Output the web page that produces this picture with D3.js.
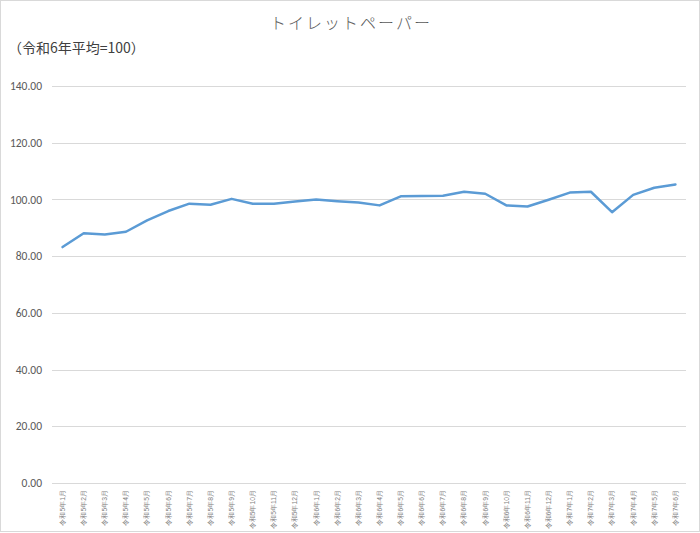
<!DOCTYPE html>
<html>
<head>
<meta charset="utf-8">
<script src="https://cdn.jsdelivr.net/npm/d3@7"></script>
<style>
  body { margin: 0; background: #fff; }
  svg { display: block; font-family: "Noto Sans CJK JP", "Noto Sans", sans-serif; }
</style>
</head>
<body>
<script>
// months on the category axis
var months = [
  "令和5年1月", "令和5年2月", "令和5年3月", "令和5年4月", "令和5年5月", "令和5年6月",
  "令和5年7月", "令和5年8月", "令和5年9月", "令和5年10月", "令和5年11月", "令和5年12月",
  "令和6年1月", "令和6年2月", "令和6年3月", "令和6年4月", "令和6年5月", "令和6年6月",
  "令和6年7月", "令和6年8月", "令和6年9月", "令和6年10月", "令和6年11月", "令和6年12月",
  "令和7年1月", "令和7年2月", "令和7年3月", "令和7年4月", "令和7年5月", "令和7年6月"
];
// index values
var values = [
  83.2, 88.1, 87.6, 88.6, 92.6, 95.9,
  98.5, 98.1, 100.2, 98.5, 98.5, 99.3,
  100.0, 99.4, 98.9, 97.9, 101.1, 101.2,
  101.3, 102.7, 102.0, 97.9, 97.5, 99.9,
  102.4, 102.7, 95.5, 101.6, 104.1, 105.3
];
var yTicks = [0, 20, 40, 60, 80, 100, 120, 140];

var W = 700, H = 533;
// plot box (window.top is reserved, so not "top")
var plotL = 52, plotR = 686, plotT = 86, plotB = 483;

var svg = d3.select("body").append("svg")
  .attr("width", W)
  .attr("height", H);

// chart border
svg.append("rect")
  .attr("x", 0.5).attr("y", 0.5)
  .attr("width", W - 1).attr("height", 531)
  .attr("fill", "#fff")
  .attr("stroke", "#d9d9d9");

var x = d3.scaleBand().domain(months).range([plotL, plotR]);
var y = d3.scaleLinear().domain([0, 140]).range([plotB, plotT]);

// horizontal gridlines
svg.append("g")
  .selectAll("line")
  .data(yTicks)
  .join("line")
  .attr("x1", plotL).attr("x2", plotR)
  .attr("y1", function(d) { return Math.round(y(d)) + 0.5; })
  .attr("y2", function(d) { return Math.round(y(d)) + 0.5; })
  .attr("stroke", "#d9d9d9")
  .attr("stroke-width", 1);

// y axis labels
var yAxis = svg.append("g")
  .attr("transform", "translate(" + plotL + ",0)")
  .call(d3.axisLeft(y).tickValues(yTicks).tickFormat(d3.format(".2f")).tickSize(0).tickPadding(10));
yAxis.select(".domain").remove();
yAxis.selectAll("text")
  .attr("fill", "#595959")
  .style("font-size", "11.5px")
  .style("font-family", "Carlito, 'Liberation Sans', sans-serif");

// x axis labels, rotated
var xAxis = svg.append("g")
  .attr("transform", "translate(0," + plotB + ")")
  .call(d3.axisBottom(x).tickSize(0).tickPadding(0));
xAxis.select(".domain").remove();
xAxis.selectAll("text")
  .attr("transform", "rotate(-90)")
  .attr("x", -7)
  .attr("y", 0)
  .attr("dy", "0.35em")
  .attr("text-anchor", "end")
  .attr("fill", "#7f7f7f")
  .style("font-size", "6.8px");

// the line
var line = d3.line()
  .x(function(d, i) { return x(months[i]) + x.bandwidth() / 2; })
  .y(function(d) { return y(d); });

svg.append("path")
  .datum(values)
  .attr("d", line)
  .attr("fill", "none")
  .attr("stroke", "#5b9bd5")
  .attr("stroke-width", 2.5)
  .attr("stroke-linejoin", "round")
  .attr("stroke-linecap", "round");

// title and note
svg.append("text")
  .attr("x", 351).attr("y", 29)
  .attr("text-anchor", "middle")
  .attr("fill", "#595959")
  .style("font-size", "16px")
  .style("font-weight", 300)
  .style("letter-spacing", "2px")
  .text("トイレットペーパー");

svg.append("text")
  .attr("x", 8).attr("y", 53)
  .attr("fill", "#404040")
  .style("font-size", "14px")
  .text("（令和6年平均=100）");
</script>
</body>
</html>
